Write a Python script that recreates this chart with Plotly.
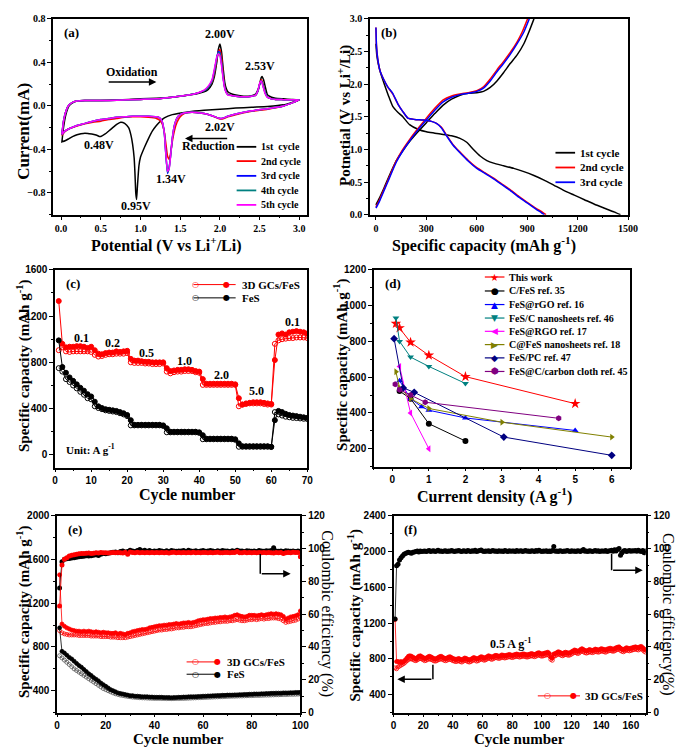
import plotly.graph_objects as go

# ---------------- (a) cyclic voltammetry ----------------
cv_v_cath1 = [3.0, 2.8, 2.6, 2.4, 2.2, 2.0, 1.8, 1.6, 1.4, 1.3, 1.25, 1.2, 1.15, 1.1, 1.05, 1.0, 0.98, 0.96, 0.95, 0.94,
              0.93, 0.92, 0.9, 0.88, 0.85, 0.8, 0.75, 0.7, 0.65, 0.6, 0.55, 0.5, 0.48, 0.45, 0.4, 0.35, 0.3, 0.25, 0.2, 0.15,
              0.1, 0.05, 0.01]
cv_i_cath1 = [0.055, 0.01, -0.005, -0.012, -0.02, -0.03, -0.04, -0.055, -0.08, -0.11, -0.14, -0.18, -0.23, -0.3, -0.38,
              -0.47, -0.55, -0.75, -0.86, -0.8, -0.62, -0.48, -0.35, -0.27, -0.2, -0.16, -0.15, -0.17, -0.2, -0.23,
              -0.26, -0.28, -0.28, -0.27, -0.26, -0.255, -0.25, -0.255, -0.265, -0.28, -0.3, -0.32, -0.33]
cv_v_cath = [3.0, 2.8, 2.6, 2.4, 2.2, 2.1, 2.05, 2.02, 1.98, 1.9, 1.8, 1.7, 1.6, 1.55, 1.5, 1.46, 1.43, 1.4, 1.38, 1.36,
             1.34, 1.32, 1.3, 1.27, 1.24, 1.2, 1.1, 1.0, 0.9, 0.8, 0.7, 0.6, 0.5, 0.4, 0.3, 0.2, 0.1, 0.05, 0.01]
cv_i_cath2 = [0.055, 0.0, -0.03, -0.05, -0.08, -0.1, -0.115, -0.12, -0.115, -0.09, -0.07, -0.06, -0.06, -0.07, -0.1,
              -0.15, -0.22, -0.33, -0.43, -0.49, -0.46, -0.35, -0.24, -0.16, -0.13, -0.115, -0.105, -0.1, -0.1, -0.105,
              -0.115, -0.125, -0.14, -0.15, -0.165, -0.185, -0.21, -0.235, -0.27]
cv_i_cath3 = [0.055, 0.0, -0.025, -0.045, -0.075, -0.095, -0.11, -0.115, -0.11, -0.09, -0.07, -0.06, -0.06, -0.065, -0.08,
              -0.11, -0.17, -0.3, -0.45, -0.57, -0.62, -0.46, -0.25, -0.14, -0.11, -0.1, -0.095, -0.095, -0.095, -0.1,
              -0.105, -0.115, -0.125, -0.14, -0.16, -0.18, -0.21, -0.23, -0.26]
cv_i_cath4 = [0.055, 0.0, -0.025, -0.045, -0.075, -0.095, -0.11, -0.115, -0.11, -0.09, -0.07, -0.06, -0.06, -0.065, -0.08,
              -0.11, -0.17, -0.3, -0.45, -0.57, -0.61, -0.45, -0.25, -0.14, -0.11, -0.1, -0.095, -0.095, -0.095, -0.1,
              -0.105, -0.115, -0.125, -0.14, -0.16, -0.18, -0.21, -0.23, -0.26]
cv_i_cath5 = [0.055, 0.0, -0.025, -0.045, -0.075, -0.095, -0.11, -0.115, -0.11, -0.09, -0.07, -0.06, -0.06, -0.065, -0.08,
              -0.11, -0.17, -0.3, -0.45, -0.58, -0.6, -0.45, -0.25, -0.14, -0.11, -0.1, -0.095, -0.095, -0.095, -0.1,
              -0.105, -0.115, -0.125, -0.14, -0.16, -0.18, -0.21, -0.23, -0.26]
cv_v_anod = [0.01, 0.03, 0.06, 0.1, 0.15, 0.2, 0.3, 0.5, 0.7, 1.0, 1.2, 1.4, 1.6, 1.7, 1.8, 1.85, 1.9, 1.93, 1.96, 1.98,
             2.0, 2.02, 2.04, 2.06, 2.08, 2.1, 2.15, 2.2, 2.3, 2.4, 2.45, 2.48, 2.5, 2.52, 2.53, 2.55, 2.57, 2.6, 2.65,
             2.7, 2.8, 2.9, 3.0]
cv_i_anod1 = [-0.33, -0.2, -0.08, 0.0, 0.03, 0.045, 0.05, 0.05, 0.055, 0.065, 0.07, 0.08, 0.1, 0.11, 0.13, 0.15, 0.2,
              0.27, 0.4, 0.52, 0.57, 0.5, 0.35, 0.22, 0.16, 0.13, 0.11, 0.1, 0.09, 0.095, 0.11, 0.15, 0.2, 0.26, 0.27,
              0.24, 0.18, 0.1, 0.08, 0.07, 0.065, 0.06, 0.055]
cv_i_anod2 = [-0.27, -0.15, -0.05, 0.01, 0.035, 0.045, 0.05, 0.05, 0.052, 0.06, 0.065, 0.08, 0.1, 0.115, 0.14, 0.17, 0.22,
              0.3, 0.42, 0.5, 0.52, 0.45, 0.3, 0.18, 0.13, 0.11, 0.095, 0.09, 0.085, 0.09, 0.1, 0.14, 0.2, 0.24, 0.23,
              0.18, 0.12, 0.08, 0.065, 0.06, 0.058, 0.056, 0.055]
cv_i_anod3 = [-0.26, -0.14, -0.05, 0.01, 0.035, 0.045, 0.05, 0.05, 0.052, 0.06, 0.065, 0.08, 0.1, 0.115, 0.14, 0.17, 0.23,
              0.32, 0.44, 0.5, 0.49, 0.4, 0.27, 0.17, 0.125, 0.105, 0.095, 0.09, 0.085, 0.09, 0.1, 0.14, 0.2, 0.23, 0.22,
              0.17, 0.12, 0.08, 0.065, 0.06, 0.058, 0.056, 0.055]
cv_i_anod4 = [-0.26, -0.14, -0.05, 0.01, 0.035, 0.045, 0.05, 0.05, 0.052, 0.06, 0.065, 0.08, 0.1, 0.115, 0.14, 0.17, 0.23,
              0.32, 0.44, 0.49, 0.48, 0.39, 0.26, 0.17, 0.125, 0.105, 0.095, 0.09, 0.085, 0.09, 0.1, 0.14, 0.2, 0.23, 0.22,
              0.17, 0.12, 0.08, 0.065, 0.06, 0.058, 0.056, 0.055]
cv_i_anod5 = [-0.26, -0.14, -0.05, 0.01, 0.035, 0.045, 0.05, 0.05, 0.052, 0.06, 0.065, 0.08, 0.1, 0.115, 0.145, 0.18, 0.24,
              0.34, 0.45, 0.48, 0.46, 0.37, 0.25, 0.16, 0.12, 0.1, 0.095, 0.09, 0.085, 0.09, 0.1, 0.145, 0.21, 0.23, 0.21,
              0.16, 0.11, 0.078, 0.065, 0.06, 0.058, 0.056, 0.055]
cv_names = ["1st  cycle", "2nd cycle", "3rd cycle", "4th cycle", "5th cycle"]
cv_colors = ["#000000", "#ff0000", "#0000ff", "#008080", "#ff00ff"]

# ---------------- (b) charge / discharge profiles ----------------
b_cap_dis1 = [0, 5, 15, 30, 50, 75, 100, 130, 160, 200, 250, 300, 350, 400, 450, 500, 540, 580, 620, 660, 700, 760, 820,
              880, 940, 1000, 1060, 1120, 1180, 1240, 1300, 1360, 1420, 1455]
b_pot_dis1 = [2.62, 2.45, 2.3, 2.15, 2.0, 1.82, 1.66, 1.57, 1.5, 1.38, 1.31, 1.27, 1.25, 1.23, 1.21, 1.17, 1.11, 1.0,
              0.9, 0.83, 0.79, 0.75, 0.71, 0.66, 0.6, 0.53, 0.45, 0.37, 0.3, 0.23, 0.16, 0.1, 0.04, 0.0]
b_cap_chg1 = [0, 20, 50, 80, 120, 160, 200, 250, 300, 350, 400, 450, 500, 550, 600, 640, 680, 720, 760, 800, 840, 880,
              910, 940]
b_pot_chg1 = [0.15, 0.25, 0.42, 0.6, 0.82, 0.98, 1.12, 1.27, 1.41, 1.55, 1.68, 1.77, 1.83, 1.86, 1.87, 1.89, 1.95, 2.05,
              2.18, 2.32, 2.45, 2.62, 2.8, 3.0]
b_cap_dis2 = [0, 3, 10, 25, 45, 70, 100, 130, 160, 190, 230, 280, 330, 360, 390, 420, 460, 500, 550, 600, 650, 700, 750,
              800, 850, 900, 950, 990, 1012]
b_pot_dis2 = [2.87, 2.6, 2.4, 2.2, 2.08, 1.96, 1.85, 1.7, 1.58, 1.48, 1.46, 1.45, 1.43, 1.4, 1.34, 1.22, 1.07, 0.96,
              0.83, 0.72, 0.64, 0.56, 0.47, 0.38, 0.28, 0.19, 0.1, 0.04, 0.0]
b_cap_chg2 = [0, 20, 50, 80, 120, 160, 200, 250, 300, 350, 400, 450, 500, 550, 600, 640, 680, 720, 760, 800, 840, 870,
              902]
b_pot_chg2 = [0.12, 0.22, 0.4, 0.58, 0.82, 1.0, 1.15, 1.32, 1.48, 1.63, 1.76, 1.82, 1.85, 1.87, 1.9, 1.96, 2.08, 2.22,
              2.35, 2.49, 2.65, 2.8, 3.0]
b_cap_dis3 = [0, 3, 10, 25, 45, 70, 100, 130, 160, 190, 230, 280, 330, 360, 390, 420, 460, 500, 550, 600, 650, 700, 750,
              800, 850, 900, 950, 985, 1002]
b_pot_dis3 = [2.87, 2.6, 2.4, 2.2, 2.08, 1.96, 1.86, 1.7, 1.58, 1.48, 1.46, 1.45, 1.43, 1.4, 1.33, 1.21, 1.06, 0.95,
              0.82, 0.71, 0.63, 0.55, 0.46, 0.37, 0.27, 0.18, 0.09, 0.03, 0.0]
b_cap_chg3 = [0, 20, 50, 80, 120, 160, 200, 250, 300, 350, 400, 450, 500, 550, 600, 640, 680, 720, 760, 800, 840, 880,
              912]
b_pot_chg3 = [0.1, 0.2, 0.38, 0.56, 0.8, 0.98, 1.13, 1.3, 1.45, 1.6, 1.73, 1.8, 1.84, 1.86, 1.89, 1.94, 2.05, 2.19,
              2.32, 2.46, 2.62, 2.8, 3.0]

# ---------------- (c) rate performance ----------------
c_cycle = list(range(1, 71))
c_gc_dis = [1330, 960, 930, 935, 935, 940, 940, 935, 925, 935,
            905, 875, 870, 880, 885, 885, 895, 890, 895, 900,
            830, 815, 815, 810, 805, 805, 800, 800, 800, 800,
            750, 725, 730, 735, 735, 740, 740, 735, 725, 720,
            655, 615, 615, 615, 615, 615, 615, 615, 615, 610,
            490, 435, 445, 450, 455, 455, 455, 450, 445, 440,
            820, 1040, 1050, 1040, 1060, 1065, 1070, 1065, 1060, 1050]
c_gc_chg = [905, 930, 895, 890, 895, 895, 895, 895, 895, 890,
            865, 850, 855, 865, 870, 870, 875, 875, 875, 880,
            800, 795, 795, 795, 790, 790, 785, 785, 785, 790,
            720, 705, 715, 720, 720, 725, 725, 725, 715, 710,
            605, 605, 605, 605, 605, 605, 605, 605, 605, 605,
            420, 435, 440, 445, 445, 445, 445, 440, 435, 435,
            960, 990, 1000, 1005, 1010, 1010, 1015, 1015, 1015, 1010]
c_fes_dis = [990, 760, 710, 670, 640, 610, 580, 555, 525, 505,
             460, 420, 405, 395, 390, 385, 380, 370, 360, 345,
             300, 260, 260, 260, 260, 260, 260, 260, 260, 255,
             230, 200, 200, 200, 200, 200, 200, 200, 200, 195,
             170, 140, 140, 140, 140, 140, 140, 140, 140, 135,
             100, 75, 75, 75, 75, 75, 75, 75, 75, 70,
             300, 380, 370, 355, 345, 340, 335, 330, 325, 320]
c_fes_chg = [750, 720, 655, 630, 600, 575, 545, 520, 490, 480,
             420, 405, 395, 385, 380, 375, 370, 360, 350, 335,
             255, 255, 255, 255, 255, 255, 255, 255, 255, 250,
             195, 195, 195, 195, 195, 195, 195, 195, 195, 190,
             135, 135, 135, 135, 135, 135, 135, 135, 135, 130,
             70, 70, 70, 70, 70, 70, 70, 70, 70, 68,
             370, 350, 340, 330, 325, 320, 318, 315, 312, 310]
c_rate_labels = ["0.1", "0.2", "0.5", "1.0", "2.0", "5.0", "0.1"]
c_rate_x = [7.4, 15.8, 25.3, 36, 46.3, 55.9, 66]
c_rate_y = [1013, 970, 877, 808, 690, 553, 1149]

# ---------------- (d) comparison ----------------
d_names = ["This work", "C/FeS ref. 35", "FeS@rGO ref. 16", "FeS/C nanosheets ref. 46", "FeS@RGO ref. 17",
           "C@FeS nanosheets ref. 18", "FeS/PC ref. 47", "FeS@C/carbon cloth ref. 45"]
d_x = [[0.1, 0.2, 0.5, 1.0, 2.0, 5.0],
       [0.2, 0.5, 1.0, 2.0],
       [0.2, 0.5, 0.8, 1.0, 2.0, 5.0],
       [0.1, 0.2, 0.5, 1.0, 2.0],
       [0.2, 0.5, 1.0],
       [0.1, 0.2, 0.5, 1.0, 3.0, 6.0],
       [0.05, 0.3, 0.6, 3.05, 6.0],
       [0.08, 0.2, 0.5, 0.9, 4.55]]
d_y = [[900, 875, 795, 722, 603, 452],
       [522, 480, 340, 243],
       [580, 480, 435, 415, 372, 302],
       [930, 800, 712, 660, 565],
       [660, 400, 200],
       [630, 540, 480, 425, 348, 265],
       [815, 540, 515, 265, 163],
       [560, 530, 500, 460, 370]]
d_colors = ["#ff0000", "#000000", "#0000ff", "#008080", "#ff00ff", "#808000", "#000080", "#800080"]
d_symbols = ["star", "circle", "triangle-up", "triangle-down", "triangle-left", "triangle-right", "diamond", "hexagon"]
d_glyphs = ["★", "●", "▲", "▼", "◀", "▶", "◆", "⬢"]

# ---------------- (e) cycling at 0.1 A/g (100 cycles) ----------------
e_cycle = list(range(1, 101))
e_gc_dis = [1460, 1010, 990, 975, 965, 955, 950, 945, 945, 940,
            945, 940, 945, 940, 935, 940, 935, 930, 935, 930,
            930, 925, 925, 930, 920, 925, 920, 915, 925, 930,
            940, 945, 950, 955, 960, 960, 965, 975, 980, 985,
            990, 995, 995, 1000, 1000, 1005, 1005, 1010, 1015, 1010,
            1015, 1020, 1020, 1025, 1020, 1025, 1030, 1040, 1045, 1050,
            1050, 1055, 1060, 1060, 1065, 1065, 1070, 1070, 1075, 1070,
            1075, 1080, 1090, 1095, 1085, 1080, 1075, 1080, 1090, 1090,
            1090, 1085, 1090, 1095, 1090, 1095, 1100, 1105, 1100, 1105,
            1100, 1095, 1080, 1055, 1065, 1075, 1080, 1085, 1095, 1130]
e_gc_chg = [950, 930, 920, 915, 910, 910, 910, 910, 905, 905,
            905, 905, 905, 900, 900, 900, 900, 895, 895, 895,
            895, 890, 890, 890, 885, 885, 885, 885, 890, 895,
            900, 905, 910, 915, 920, 925, 930, 935, 940, 945,
            950, 955, 955, 960, 960, 965, 965, 970, 975, 975,
            980, 980, 985, 985, 985, 990, 995, 1000, 1005, 1010,
            1015, 1015, 1020, 1025, 1025, 1030, 1030, 1035, 1035, 1035,
            1040, 1040, 1045, 1050, 1045, 1040, 1040, 1045, 1050, 1050,
            1055, 1050, 1055, 1060, 1055, 1060, 1060, 1065, 1065, 1065,
            1060, 1055, 1040, 1025, 1030, 1035, 1040, 1045, 1055, 1070]
e_fes_dis = [975, 760, 745, 725, 705, 690, 670, 650, 630, 615,
             595, 575, 555, 540, 520, 505, 490, 470, 455, 440,
             425, 410, 400, 390, 380, 375, 370, 365, 360, 355,
             355, 350, 350, 348, 345, 345, 345, 342, 342, 340,
             340, 340, 340, 338, 338, 338, 336, 338, 338, 340,
             340, 342, 342, 344, 345, 345, 346, 347, 348, 350,
             350, 352, 352, 354, 355, 356, 356, 358, 358, 360,
             360, 360, 362, 362, 364, 364, 366, 366, 368, 368,
             370, 370, 370, 372, 372, 374, 374, 376, 376, 378,
             378, 378, 380, 380, 380, 382, 382, 384, 384, 385]
e_fes_chg = [720, 700, 680, 660, 640, 620, 600, 585, 570, 555,
             540, 525, 510, 495, 480, 465, 450, 435, 420, 410,
             400, 390, 380, 372, 366, 360, 356, 352, 348, 345,
             342, 340, 338, 336, 335, 334, 333, 332, 331, 330,
             330, 330, 329, 329, 328, 328, 328, 328, 329, 329,
             330, 330, 331, 332, 333, 334, 335, 336, 337, 338,
             339, 340, 341, 342, 343, 344, 345, 346, 347, 348,
             349, 350, 350, 351, 352, 352, 353, 354, 355, 355,
             356, 357, 357, 358, 359, 360, 360, 361, 362, 363,
             363, 364, 365, 365, 366, 367, 367, 368, 369, 370]
e_gc_ce = [65, 90, 93.5, 94.5, 95.5, 96, 96.3, 96.5, 96.8, 97,
           97, 97.2, 97.3, 97, 97.2, 97.5, 97.3, 97.6, 97.4, 97.5,
           97.3, 97.5, 97.6, 97.4, 97.6, 97.5, 97.3, 97.8, 96.5, 98,
           97.6, 97.5, 97.8, 97.4, 97.6, 97.5, 97.7, 97.4, 97.6, 97.5,
           97.6, 97.4, 97.7, 97.5, 97.6, 97.3, 97.6, 97.8, 97.5, 97.6,
           97.5, 97.7, 97.4, 97.6, 97.5, 97.8, 97.4, 97.6, 97.5, 97.7,
           97.6, 97.4, 97.7, 97.5, 97.6, 97.8, 97.5, 97.4, 97.7, 97.6,
           97.5, 97.7, 97.6, 98.3, 97.5, 97.4, 97.8, 97.5, 97.6, 97.5,
           97.7, 97.4, 97.6, 97.5, 97.7, 97.5, 97.6, 97.4, 97.3, 97.6,
           97.5, 97.7, 97.0, 97.4, 97.6, 97.5, 97.8, 97.6, 97.7, 95]
e_fes_ce = [76, 92, 93.5, 93.8, 94, 94.3, 94.5, 94.8, 95, 95.2,
            95.3, 95.6, 95.5, 95.7, 96, 96.2, 95.8, 96.5, 97, 96.8,
            97.2, 97.5, 97.8, 98, 97.5, 98.2, 98.5, 98, 98.3, 99,
            98.5, 98.2, 98.8, 99.5, 98.6, 99, 98.4, 98.8, 98.3, 98.6,
            98.4, 98.8, 98.5, 98.2, 98.7, 98.3, 98.9, 98.5, 98.4, 98.6,
            98.5, 98.8, 98.3, 99, 98.6, 98.4, 98.7, 98.3, 98.5, 98.8,
            98.4, 98.6, 98.9, 98.5, 98.3, 98.7, 98.4, 98.8, 98.5, 98.6,
            98.3, 98.7, 98.4, 99, 98.5, 98.6, 98.3, 98.7, 98.5, 98.4,
            98.6, 98.3, 98.8, 98.5, 98.4, 98.7, 98.5, 98.8, 100.5, 98.6,
            98.4, 98.6, 98.3, 98.7, 98.5, 98.4, 98.6, 98.3, 98.6, 98.4]

# ---------------- (f) long cycling at 0.5 A/g (170 cycles) ----------------
f_cycle = list(range(1, 171))
f_dis = [1240, 770, 770, 765, 770, 760, 775, 790, 810, 830,
         835, 830, 820, 810, 800, 815, 830, 835, 825, 815,
         805, 810, 820, 830, 825, 815, 805, 800, 805, 815,
         825, 830, 820, 810, 805, 810, 820, 825, 815, 805,
         800, 795, 800, 805, 795, 790, 800, 810, 805, 795,
         790, 795, 805, 815, 810, 800, 805, 815, 825, 820,
         810, 815, 825, 835, 830, 820, 825, 835, 840, 835,
         830, 835, 845, 840, 835, 840, 845, 850, 845, 840,
         845, 850, 855, 850, 845, 850, 855, 855, 850, 845,
         850, 855, 860, 855, 850, 855, 865, 870, 860, 855,
         860, 865, 870, 875, 860, 820, 810, 855, 860, 870,
         880, 875, 865, 860, 870, 875, 870, 865, 870, 880,
         890, 900, 895, 885, 890, 905, 915, 905, 895, 890,
         895, 905, 900, 895, 900, 910, 905, 900, 905, 915,
         910, 905, 900, 910, 915, 920, 915, 910, 915, 925,
         930, 935, 920, 910, 905, 915, 925, 920, 915, 920,
         925, 930, 935, 930, 925, 935, 940, 925, 910, 900]
f_chg = [700, 690, 710, 720, 730, 740, 750, 765, 780, 795,
         800, 800, 795, 785, 780, 790, 800, 805, 800, 790,
         780, 785, 795, 800, 795, 790, 780, 775, 780, 790,
         795, 800, 795, 785, 780, 785, 795, 795, 790, 780,
         775, 770, 775, 780, 770, 765, 775, 785, 780, 770,
         765, 770, 780, 790, 785, 775, 780, 790, 800, 795,
         785, 790, 800, 810, 805, 795, 800, 810, 815, 810,
         805, 810, 820, 815, 810, 815, 820, 825, 820, 815,
         820, 825, 830, 825, 820, 825, 830, 830, 825, 820,
         825, 830, 835, 830, 825, 830, 840, 845, 835, 830,
         835, 840, 845, 850, 835, 795, 785, 830, 835, 845,
         855, 850, 840, 835, 845, 850, 845, 840, 845, 855,
         865, 875, 870, 860, 865, 880, 890, 880, 870, 865,
         870, 880, 875, 870, 875, 885, 880, 875, 880, 890,
         885, 880, 875, 885, 890, 895, 890, 885, 890, 900,
         905, 910, 895, 885, 880, 890, 900, 895, 890, 895,
         900, 905, 910, 905, 900, 910, 915, 900, 885, 875]
f_ce = [57, 89.5, 90.5, 93, 94.5, 95.5, 96.5, 97, 97.5, 97.8,
        97.5, 97.2, 97.8, 98, 98.3, 98.5, 98, 98.6, 98.2, 98.4,
        98.6, 98.3, 98.5, 98.8, 98.2, 98.5, 98.7, 98.3, 98.6, 99,
        98.4, 98.6, 98.3, 98.5, 98.7, 98.2, 98.6, 98.4, 98.8, 98.5,
        98.3, 98.6, 98.5, 98.9, 98.4, 98.2, 98.7, 98.5, 98.3, 98.8,
        98.5, 98.2, 98.7, 98.4, 99, 98.3, 98.6, 98.8, 99.2, 98.5,
        98.3, 98.6, 98.4, 98.7, 98.2, 98.5, 98.8, 98.4, 98.6, 98.3,
        98.7, 98.4, 98.6, 98.3, 98.8, 98.5, 98.2, 98.7, 98.4, 98.6,
        98.5, 98.3, 98.8, 98.4, 98.6, 98.7, 98.2, 98.5, 98.9, 98.4,
        98.6, 98.3, 98.7, 98.5, 98.2, 98.8, 98.4, 99, 98.5, 98.3,
        98.6, 98.4, 98.7, 98.3, 98.5, 98.2, 98.8, 101.3, 98.4, 98.6,
        98.3, 98.7, 98.5, 98.2, 98.6, 98.4, 98.8, 98.5, 98.3, 98.7,
        98.4, 98.6, 98.2, 98.7, 98.5, 98.3, 98.8, 99.5, 98.4, 98.6,
        98.3, 98.7, 98.5, 98.2, 98.6, 98.8, 98.4, 98.7, 98.3, 98.5,
        98.6, 98.4, 98.8, 98.3, 98.5, 98.7, 99, 98.4, 99.3, 98.6,
        99.5, 100, 96, 97.5, 98.5, 98.8, 98.3, 98.6, 98.9, 98.4,
        98.7, 98.5, 98.8, 98.4, 99, 98.6, 98.3, 98.8, 97.5, 98.5]

# ---------------- figure ----------------
W, H = 685, 747
SERIF = "Liberation Serif"
SANS = "Liberation Sans"
RED = "#ff0000"


def P(x):
    return x / W


def Q(y):
    return 1 - y / H


def axis(dom, rng, dtick, anchor, tickfam=SERIF, fmt=None, **kw):
    d = dict(domain=dom, range=rng, dtick=dtick, anchor=anchor,
             showline=True, linecolor="black", linewidth=1.5, mirror=True,
             ticks="outside", ticklen=4, tickwidth=1.2, tickcolor="black",
             minor=dict(ticks="outside", ticklen=2, tickwidth=1, tickcolor="black", dtick=dtick / 2),
             tickfont=dict(family=tickfam, size=10, weight="bold", color="black"),
             showgrid=False, zeroline=False)
    if fmt:
        d["tickformat"] = fmt
    d.update(kw)
    return d


fig = go.Figure()

# (a)
cv_cath = [cv_i_cath1, cv_i_cath2, cv_i_cath3, cv_i_cath4, cv_i_cath5]
cv_anod = [cv_i_anod1, cv_i_anod2, cv_i_anod3, cv_i_anod4, cv_i_anod5]
for k in range(5):
    vx = (cv_v_cath1 if k == 0 else cv_v_cath) + cv_v_anod
    iy = cv_cath[k] + cv_anod[k]
    fig.add_trace(go.Scatter(x=vx, y=iy, mode="lines", name=cv_names[k], xaxis="x", yaxis="y",
                             line=dict(color=cv_colors[k], width=1.5, shape="spline", smoothing=0.4)))

# (b)
for cx, py, col in [(b_cap_dis1, b_pot_dis1, "#000000"), (b_cap_chg1, b_pot_chg1, "#000000"),
                    (b_cap_dis2, b_pot_dis2, RED), (b_cap_chg2, b_pot_chg2, RED),
                    (b_cap_dis3, b_pot_dis3, "#0000ff"), (b_cap_chg3, b_pot_chg3, "#0000ff")]:
    fig.add_trace(go.Scatter(x=cx, y=py, mode="lines", xaxis="x2", yaxis="y2",
                             line=dict(color=col, width=1.5, shape="spline", smoothing=0.5)))

# (c)
for ys, col, sym in [(c_gc_chg, RED, "circle-open"), (c_gc_dis, RED, "circle"),
                     (c_fes_chg, "#000000", "circle-open"), (c_fes_dis, "#000000", "circle")]:
    fig.add_trace(go.Scatter(x=c_cycle, y=ys, mode="lines+markers", xaxis="x3", yaxis="y3",
                             line=dict(color=col, width=1),
                             marker=dict(symbol=sym, size=5, color=col, line=dict(color=col, width=1))))

# (d)
for k in range(len(d_names)):
    fig.add_trace(go.Scatter(x=d_x[k], y=d_y[k], mode="lines+markers", name=d_names[k], xaxis="x4", yaxis="y4",
                             line=dict(color=d_colors[k], width=1),
                             marker=dict(symbol=d_symbols[k], size=8 if k == 0 else 6, color=d_colors[k])))

# (e)
for ys, col, sym in [(e_gc_chg, RED, "circle-open"), (e_gc_dis, RED, "circle"),
                     (e_fes_chg, "#555555", "circle-open"), (e_fes_dis, "#000000", "circle")]:
    fig.add_trace(go.Scatter(x=e_cycle, y=ys, mode="lines+markers", xaxis="x5", yaxis="y5",
                             line=dict(color=col, width=0.8),
                             marker=dict(symbol=sym, size=4, color=col, line=dict(color=col, width=0.8))))
for ys, col in [(e_fes_ce, "#000000"), (e_gc_ce, RED)]:
    fig.add_trace(go.Scatter(x=e_cycle, y=ys, mode="lines+markers", xaxis="x5", yaxis="y7",
                             line=dict(color=col, width=0.8), marker=dict(symbol="circle", size=5, color=col)))

# (f)
for ys, col, sym in [(f_chg, RED, "circle-open"), (f_dis, RED, "circle")]:
    fig.add_trace(go.Scatter(x=f_cycle, y=ys, mode="lines+markers", xaxis="x6", yaxis="y6",
                             line=dict(color=col, width=0.8),
                             marker=dict(symbol=sym, size=4, color=col, line=dict(color=col, width=0.8))))
fig.add_trace(go.Scatter(x=f_cycle, y=f_ce, mode="lines+markers", xaxis="x6", yaxis="y8",
                         line=dict(color="#000000", width=0.8), marker=dict(symbol="circle", size=5, color="#000000")))

layout = dict(
    width=W, height=H, margin=dict(l=0, r=0, t=0, b=0),
    paper_bgcolor="white", plot_bgcolor="white", showlegend=False,
    xaxis=axis([P(43), P(302)], [-0.1, 3.1], 0.5, "y", fmt=".1f"),
    yaxis=axis([Q(204), Q(5)], [-1.0, 0.8], 0.4, "x", fmt=".1f"),
    xaxis2=axis([P(366), P(629)], [-35, 1500], 300, "y2"),
    yaxis2=axis([Q(204), Q(5)], [0, 3.0], 0.5, "x2", fmt=".1f"),
    xaxis3=axis([P(45), P(302)], [0, 70], 10, "y3", tickfam=SANS, ticklen=3),
    yaxis3=axis([Q(461), Q(260)], [-110, 1600], 400, "x3", tickfam=SANS),
    xaxis4=axis([P(370), P(631)], [-0.5, 6.5], 1, "y4", tickfam=SANS, ticklen=3),
    yaxis4=axis([Q(460), Q(260)], [100, 1200], 200, "x4", tickfam=SANS),
    xaxis5=axis([P(47), P(295)], [0, 100], 20, "y5", tickfam=SANS, ticklen=3),
    yaxis5=axis([Q(710), Q(510)], [200, 2000], 400, "x5", tickfam=SANS),
    xaxis6=axis([P(390), P(647)], [0, 170], 20, "y6", tickfam=SANS, ticklen=3),
    yaxis6=axis([Q(710), Q(510)], [200, 2400], 400, "x6", tickfam=SANS),
    yaxis7=axis([Q(710), Q(510)], [0, 120], 20, "x5", tickfam=SANS, overlaying="y5", side="right", mirror=False),
    yaxis8=axis([Q(710), Q(510)], [0, 120], 20, "x6", tickfam=SANS, overlaying="y6", side="right", mirror=False),
)
fig.update_layout(**layout)

ann = []
shapes = []


def txt(x, y, s, xref, yref, size=12, xanchor="center", color="black", angle=0, weight="bold", fam=SERIF,
        yanchor="middle"):
    ann.append(dict(x=x, y=y, text=s, xref=xref, yref=yref, showarrow=False, xanchor=xanchor, yanchor=yanchor,
                    textangle=angle, font=dict(family=fam, size=size, weight=weight, color=color)))


def arrow(x, y, ax, ay, xr, yr):
    ann.append(dict(x=x, y=y, ax=ax, ay=ay, xref=xr, yref=yr, axref=xr, ayref=yr, text="", showarrow=True,
                    arrowhead=2, arrowsize=1, arrowwidth=1.5, arrowcolor="black"))


def seg(x0, y0, x1, y1, xr, yr, color="black", width=1.5):
    shapes.append(dict(type="line", x0=x0, y0=y0, x1=x1, y1=y1, xref=xr, yref=yr,
                       line=dict(color=color, width=width)))


# axis titles (paper positions)
cap_title = "Specific capacity (mAh g<sup>-1</sup>)"
for s, x, y, ang, sz in [
        ("Potential (V vs Li<sup>+</sup>/Li)", 158, 234, 0, 16),
        ("Current(mA)", 12, 119, -90, 17),
        ("Specific capacity (mAh g<sup>-1</sup>)", 482, 234, 0, 16),
        ("Potnetial (V vs Li<sup>+</sup>/Li)", 340, 103, -90, 15),
        ("Cycle number", 179, 489, 0, 16),
        (cap_title, 12, 358, -90, 15),
        ("Current density (A g<sup>-1</sup>)", 493, 489, 0, 16),
        (cap_title, 336, 357, -90, 15),
        (cap_title, 12, 608, -90, 15),
        (cap_title, 350, 611, -90, 15)]:
    txt(P(x), Q(y), s, "paper", "paper", size=sz, angle=ang)
txt(P(171), 0.0, "Cycle number", "paper", "paper", size=15, yanchor="bottom")
txt(P(518), 0.0, "Cycle number", "paper", "paper", size=15, yanchor="bottom")
txt(P(322), Q(610), "Coulombic efficiency (%)", "paper", "paper", size=16, angle=90, weight="normal")
txt(P(669), Q(610), "Coulombic efficiency(%)", "paper", "paper", size=16, angle=90, weight="normal")

# panel letters
for lab, ax_ in [("(a)", ""), ("(b)", "2"), ("(c)", "3"), ("(d)", "4"), ("(e)", "5"), ("(f)", "6")]:
    txt(0.035, 0.93, lab, "x%s domain" % ax_, "y%s domain" % ax_, size=13, xanchor="left")

# (a) annotations
txt(0.89, 0.315, "Oxidation", "x", "y", size=12)
arrow(1.2, 0.22, 0.58, 0.22, "x", "y")
txt(1.85, -0.37, "Reduction", "x", "y", size=12)
arrow(1.56, -0.3, 2.11, -0.3, "x", "y")
for s, vx, iy in [("2.00V", 2.0, 0.66), ("2.53V", 2.5, 0.37), ("2.02V", 2.0, -0.19), ("0.48V", 0.48, -0.36),
                  ("0.95V", 0.94, -0.92), ("1.34V", 1.39, -0.67)]:
    txt(vx, iy, s, "x", "y", size=12)

# (c) rate labels
for s, cx, cy in zip(c_rate_labels, c_rate_x, c_rate_y):
    txt(cx, cy, s, "x3", "y3", size=12)
txt(2.5, 50, "Unit: A g<sup>-1</sup>", "x3", "y3", size=11, xanchor="left")

# (e) arrow
seg(83.5, 1650, 83.5, 1470, "x5", "y5")
arrow(96, 1470, 83.5, 1470, "x5", "y5")

# (f) arrows + label
seg(26.5, 735, 26.5, 572, "x6", "y6")
arrow(2.5, 572, 26.5, 572, "x6", "y6")
seg(147, 1975, 147, 1790, "x6", "y6")
arrow(168, 1790, 147, 1790, "x6", "y6")
txt(79, 975, "0.5 A g<sup>-1</sup>", "x6", "y6", size=12)


# ---- custom legends (paper coordinates) ----
def glyph(x, y, g, color, size=9):
    ann.append(dict(x=P(x), y=Q(y), text=g, xref="paper", yref="paper", showarrow=False, xanchor="center",
                    yanchor="middle", font=dict(family="DejaVu Sans", size=size, color=color)))


def ltext(x, y, s, size=11):
    ann.append(dict(x=P(x), y=Q(y), text=s, xref="paper", yref="paper", showarrow=False, xanchor="left",
                    yanchor="middle", font=dict(family=SERIF, size=size, weight="bold", color="black")))


# (a)
for k, yy in enumerate([135, 149.5, 164.5, 179.3, 194]):
    seg(P(230), Q(yy), P(250), Q(yy), "paper", "paper", color=cv_colors[k], width=1.8)
    ltext(253, yy, cv_names[k], size=10)
# (b)
for nm, col, yy in [("1st cycle", "#000000", 141), ("2nd cycle", RED, 156), ("3rd cycle", "#0000ff", 171)]:
    seg(P(555), Q(yy), P(575), Q(yy), "paper", "paper", color=col, width=1.8)
    ltext(578, yy, nm, size=11)
# (c)
for nm, col, yy in [("3D GCs/FeS", RED, 275), ("FeS", "#000000", 288.5)]:
    seg(P(186), Q(yy), P(229), Q(yy), "paper", "paper", color=col, width=1)
    glyph(188, yy, "○", col, size=8)
    glyph(220, yy, "●", col, size=8)
    ltext(233, yy, nm, size=11)
# (d)
for k, yy in enumerate([267.3, 281.5, 295.3, 309, 322.5, 336, 349.5, 363.3]):
    seg(P(483), Q(yy), P(503), Q(yy), "paper", "paper", color=d_colors[k], width=1.2)
    glyph(493, yy, d_glyphs[k], d_colors[k], size=9 if k else 10)
    ltext(506, yy, d_names[k], size=10)
# (e)
for nm, col, yy in [("3D GCs/FeS", RED, 658.5), ("FeS", "#000000", 671)]:
    seg(P(179), Q(yy), P(213), Q(yy), "paper", "paper", color=col, width=1)
    glyph(188, yy, "○", col, size=8)
    glyph(210, yy, "●", col, size=8)
    ltext(218, yy, nm, size=11)
# (f)
seg(P(537), Q(693), P(580), Q(693), "paper", "paper", color=RED, width=1)
glyph(547, 693, "○", RED, size=8)
glyph(573, 693, "●", RED, size=8)
ltext(583, 693, "3D GCs/FeS", size=11)

fig.update_layout(annotations=ann, shapes=shapes)
fig.write_html("out.html")
